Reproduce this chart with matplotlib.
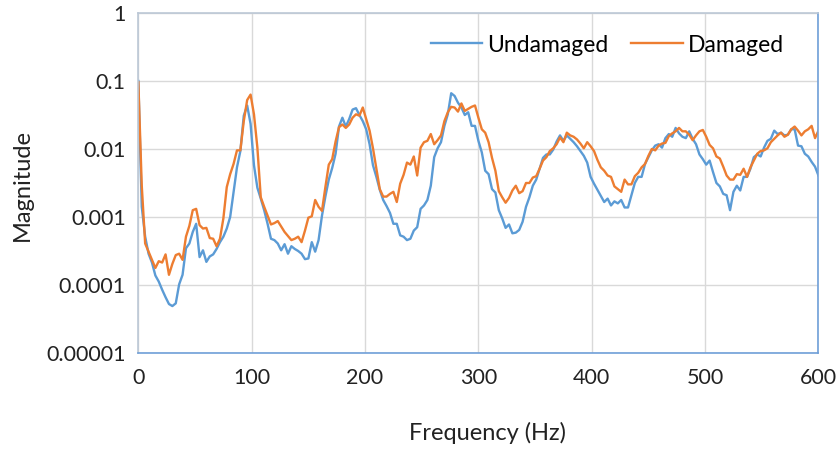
import numpy as np
import matplotlib
matplotlib.use("Agg")
import matplotlib.pyplot as plt

plt.rcParams['font.family'] = ['Lato', 'DejaVu Sans']

freq = np.arange(0, 601, 3)

undamaged_log = [
    -1.00, -2.85, -3.29, -3.54, -3.67, -3.86, -3.95, -4.07, -4.18, -4.28,
    -4.31, -4.27, -3.99, -3.85, -3.46, -3.39, -3.22, -3.10, -3.59, -3.49,
    -3.66, -3.58, -3.55, -3.47, -3.37, -3.29, -3.17, -3.00, -2.63,
    -2.27, -2.03, -1.51, -1.36, -1.63, -2.24, -2.57, -2.73, -2.90, -3.10,
    -3.32, -3.34, -3.39, -3.49, -3.40, -3.54, -3.43, -3.47, -3.50, -3.54,
    -3.62, -3.61, -3.37, -3.51, -3.34, -2.98, -2.70, -2.45, -2.28,
    -2.07, -1.67, -1.54, -1.67, -1.56, -1.42, -1.40, -1.50, -1.59, -1.71,
    -1.93, -2.24, -2.41, -2.60, -2.75, -2.84, -2.94, -3.10, -3.10, -3.27,
    -3.29, -3.34, -3.32, -3.20, -3.15, -2.88, -2.83, -2.75, -2.54, -2.12,
    -1.99, -1.90, -1.66, -1.49, -1.18, -1.22, -1.32, -1.39, -1.50, -1.46,
    -1.66, -1.66, -1.88, -2.05, -2.32, -2.37, -2.59, -2.64, -2.90, -3.02,
    -3.16, -3.11, -3.24, -3.23, -3.19, -3.07, -2.85, -2.71, -2.54,
    -2.45, -2.29, -2.13, -2.08, -2.08, -2.01, -1.89, -1.80, -1.88, -1.80,
    -1.85, -1.90, -1.96, -2.03, -2.10, -2.20, -2.41, -2.51, -2.60, -2.69,
    -2.78, -2.73, -2.83, -2.77, -2.80, -2.75, -2.86, -2.86, -2.68, -2.50,
    -2.41, -2.41, -2.22, -2.12, -2.02, -1.95, -1.93, -1.98, -1.84, -1.78,
    -1.82, -1.69, -1.77, -1.82, -1.84, -1.74, -1.85, -1.93, -2.08, -2.15,
    -2.23, -2.17, -2.34, -2.50, -2.55, -2.66, -2.68, -2.90, -2.63,
    -2.54, -2.61, -2.41, -2.41, -2.29, -2.12, -2.08, -2.11, -1.98, -1.88,
    -1.85, -1.73, -1.78, -1.76, -1.80, -1.79, -1.71, -1.71, -1.95, -1.96,
    -2.07, -2.11, -2.19, -2.26, -2.39,
]

damaged_log = [
    -1.02, -2.54, -3.39, -3.51, -3.63, -3.75, -3.65, -3.67, -3.55, -3.85,
    -3.69, -3.56, -3.54, -3.63, -3.29, -3.13, -2.90, -2.88, -3.12, -3.17,
    -3.16, -3.31, -3.32, -3.43, -3.32, -3.02, -2.56, -2.37, -2.22,
    -2.02, -2.02, -1.59, -1.28, -1.20, -1.49, -1.98, -2.71, -2.85, -2.98,
    -3.11, -3.09, -3.06, -3.14, -3.22, -3.28, -3.34, -3.32, -3.29, -3.37,
    -3.20, -3.01, -2.99, -2.75, -2.85, -2.91, -2.56, -2.23, -2.15,
    -1.89, -1.68, -1.64, -1.69, -1.64, -1.54, -1.49, -1.51, -1.39, -1.56,
    -1.73, -1.99, -2.29, -2.59, -2.70, -2.70, -2.66, -2.63, -2.78, -2.51,
    -2.38, -2.20, -2.23, -2.11, -2.39, -1.98, -1.90, -1.88, -1.78, -1.93,
    -1.87, -1.80, -1.59, -1.46, -1.38, -1.39, -1.45, -1.33, -1.44, -1.41,
    -1.38, -1.36, -1.54, -1.71, -1.76, -1.90, -2.13, -2.32, -2.62, -2.71,
    -2.79, -2.72, -2.61, -2.54, -2.65, -2.62, -2.50, -2.50, -2.42,
    -2.40, -2.29, -2.17, -2.12, -2.03, -1.99, -1.93, -1.83, -1.90, -1.76,
    -1.80, -1.82, -1.86, -1.92, -1.99, -1.90, -1.96, -2.03, -2.16, -2.27,
    -2.32, -2.39, -2.41, -2.55, -2.59, -2.63, -2.45, -2.52, -2.52, -2.40,
    -2.35, -2.27, -2.22, -2.10, -2.00, -2.02, -1.95, -1.92, -1.91, -1.81,
    -1.77, -1.74, -1.69, -1.74, -1.74, -1.79, -1.87, -1.80, -1.74, -1.72,
    -1.82, -1.94, -1.99, -2.11, -2.14, -2.26, -2.39, -2.45, -2.45,
    -2.37, -2.38, -2.29, -2.41, -2.27, -2.17, -2.07, -2.03, -2.02, -1.99,
    -1.90, -1.85, -1.80, -1.76, -1.82, -1.79, -1.71, -1.67, -1.73, -1.80,
    -1.74, -1.71, -1.66, -1.84, -1.73,
]

x_ticks = [0, 100, 200, 300, 400, 500, 600]
y_ticks = [1e-5, 1e-4, 1e-3, 1e-2, 1e-1, 1]
y_labels = ["0.00001", "0.0001", "0.001", "0.01", "0.1", "1"]

undamaged = np.power(10.0, undamaged_log)
damaged = np.power(10.0, damaged_log)

fig = plt.figure(figsize=(8.36, 4.5), dpi=100)
ax = fig.add_axes([0.1655, 0.2156, 0.8135, 0.7555])

ax.plot(freq, undamaged, color="#5B9BD5", lw=1.7, label="Undamaged")
ax.plot(freq, damaged, color="#ED7D31", lw=1.7, label="Damaged")

ax.set_yscale("log")
ax.set_xlim(0, 600)
ax.set_ylim(1e-5, 1)
ax.set_xticks(x_ticks)
ax.set_yticks(y_ticks)
ax.set_yticklabels(y_labels)
ax.minorticks_off()
ax.grid(True, color="#D9D9D9", lw=1.0)
ax.set_axisbelow(True)
ax.tick_params(length=0, labelsize=15.5, colors="#222222")
ax.tick_params(axis="x", pad=11)
ax.tick_params(axis="y", pad=9)

for side in ["left", "top"]:
    ax.spines[side].set_color("#BCC8D6")
for side in ["bottom", "right"]:
    ax.spines[side].set_color("#6F9FD8")
for s in ax.spines.values():
    s.set_linewidth(1.2)

ax.set_xlabel("Frequency (Hz)", fontsize=17, color="#222222", va="center", ha="center")
ax.set_ylabel("Magnitude", fontsize=17, color="#222222", va="center", ha="center")
ax.xaxis.set_label_coords(0.514, -0.235)
ax.yaxis.set_label_coords(-0.171, 0.494)

ax.legend(loc="center right", bbox_to_anchor=(784 / 836, 1 - 45 / 450),
          bbox_transform=fig.transFigure, ncol=2, frameon=False,
          fontsize=16.5, handlelength=2.25, columnspacing=1.0,
          handletextpad=0.22, borderpad=0, borderaxespad=0)

fig.savefig("out.png", dpi=100)
